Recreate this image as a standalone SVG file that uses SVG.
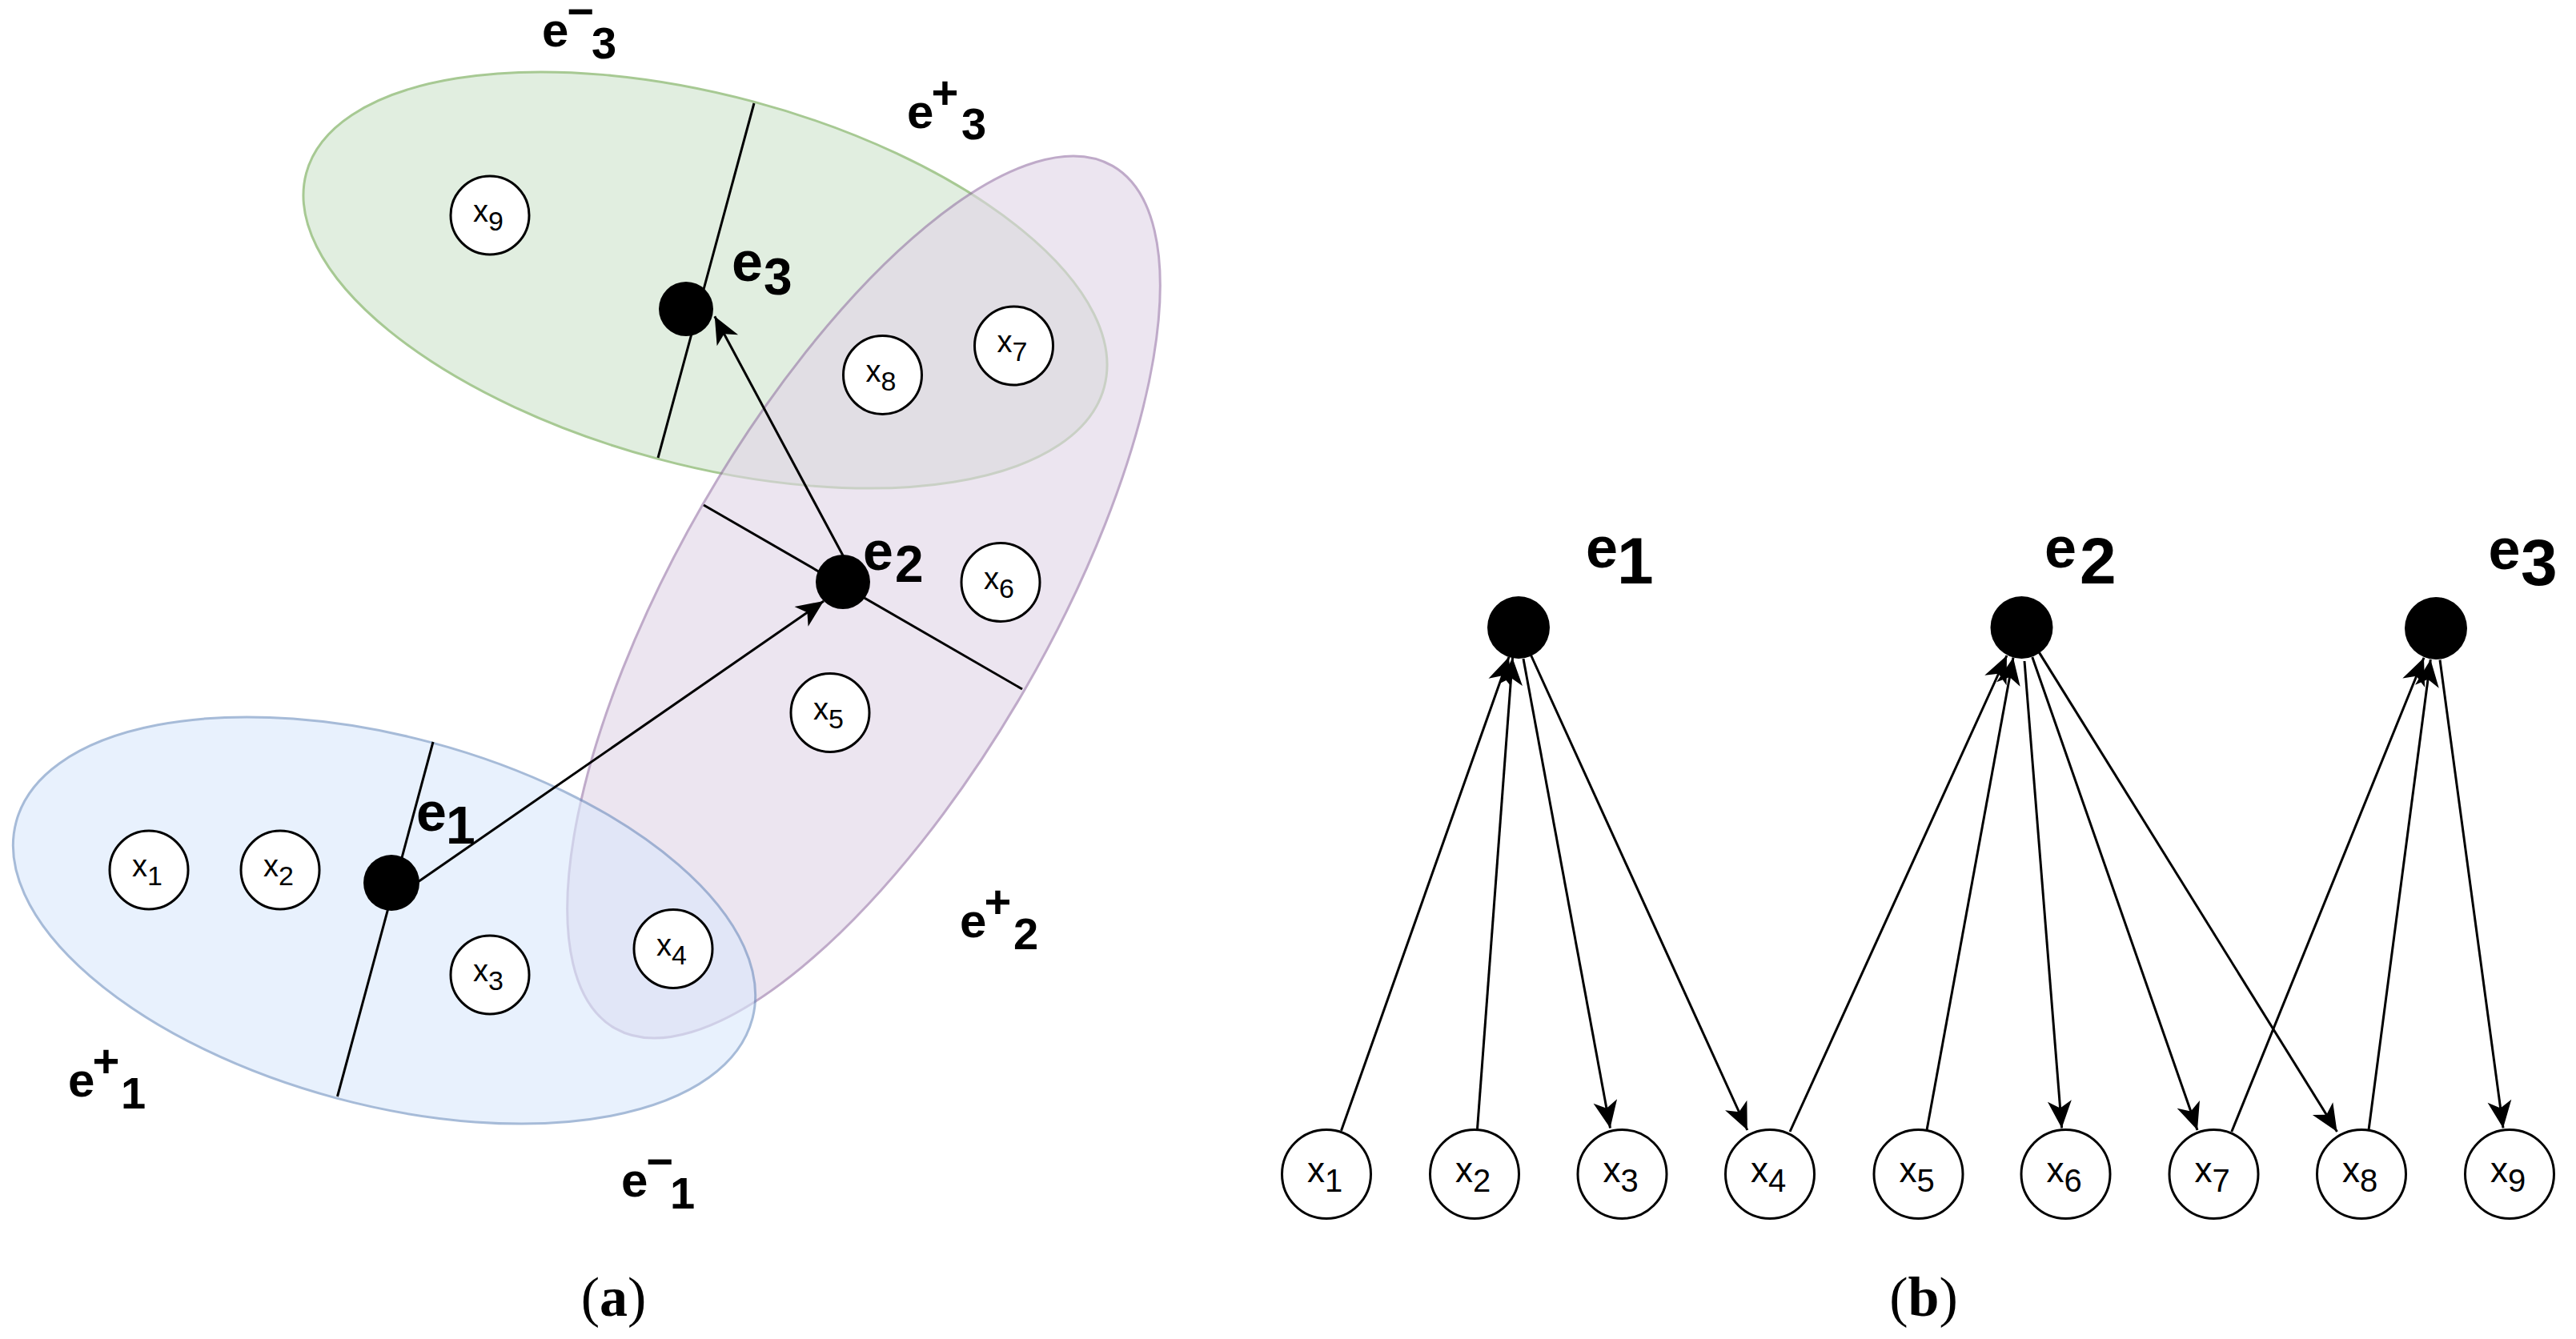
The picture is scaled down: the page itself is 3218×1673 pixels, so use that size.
<svg xmlns="http://www.w3.org/2000/svg" width="3218" height="1673" viewBox="0 0 3218 1673">
<style>
.bg{fill:#ffffff}
.rg{stroke-width:3}
.green{fill:#d5e8d4;stroke:#82b366;opacity:0.7}
.purple{fill:#e1d5e7;stroke:#9673a6;opacity:0.6}
.blue{fill:#dae8fc;stroke:#6c8ebf;opacity:0.6}
.ln{fill:none;stroke:#000;stroke-width:3}
.ar{fill:none;stroke:#000;stroke-width:3;marker-end:url(#arr)}
.xa{fill:#fff;stroke:#000;stroke-width:3}
.dot{fill:#000}
.xt{font-family:"Liberation Sans",Arial,sans-serif;fill:#000;text-anchor:middle}
.el{font-family:"Liberation Sans",Arial,sans-serif;font-weight:bold;fill:#000}
.cap{font-family:"Liberation Serif","Times New Roman",serif;font-size:70px;fill:#000;text-anchor:middle}
</style>
<defs>
<marker id="arr" markerUnits="userSpaceOnUse" viewBox="-36 -17 38 34" refX="0" refY="0" markerWidth="38" markerHeight="34" orient="auto">
<path d="M0,0 L-34,-15 L-25,0 L-34,15 Z" fill="#000"/>
</marker>
</defs>
<rect class="bg" x="0" y="0" width="3218" height="1673"/>

<g id="regions">
<ellipse id="region-e3" class="green rg" cx="881" cy="350" rx="516" ry="231" transform="rotate(15 881 350)"/>
<ellipse id="region-e2" class="purple rg" cx="1079" cy="746" rx="622" ry="232" transform="rotate(-60 1079 746)"/>
<ellipse id="region-e1" class="blue rg" cx="480" cy="1150" rx="476" ry="230" transform="rotate(15 480 1150)"/>
</g>

<g id="partitions">
<line class="ln" x1="942" y1="129" x2="822" y2="572"/>
<line class="ln" x1="879" y1="631" x2="1277" y2="861"/>
<line class="ln" x1="541" y1="927" x2="421.5" y2="1370"/>
</g>

<g id="connectors">
<path class="ar" d="M522,1102 L1029,751"/>
<path class="ar" d="M1053,694 L892.8,395.3"/>
<path class="ar" d="M1675.5,1412.7 L1885,820.7"/>
<path class="ar" d="M1845.5,1410.7 L1889.5,822"/>
<path class="ar" d="M1903,823 L2011.5,1409.4"/>
<path class="ar" d="M1912.7,819 L2182.8,1412"/>
<path class="ar" d="M2236,1414 L2507,819"/>
<path class="ar" d="M2407,1412 L2515,821.5"/>
<path class="ar" d="M2529,826 L2575.6,1409.4"/>
<path class="ar" d="M2538.8,821 L2745,1412"/>
<path class="ar" d="M2547,814.6 L2919.5,1414"/>
<path class="ar" d="M2787.8,1414 L3028,821.7"/>
<path class="ar" d="M2959,1412 L3036.3,824"/>
<path class="ar" d="M3048,824.5 L3127,1409.4"/>
</g>

<g id="a-e1"><circle class="dot" cx="489" cy="1103" r="35"/><text class="el" x="520" y="1038" font-size="68">e<tspan x="557" y="1054" font-size="66">1</tspan></text></g>
<g id="a-e2"><circle class="dot" cx="1053" cy="727" r="34"/><text class="el" x="1078" y="712" font-size="68">e<tspan x="1118" y="727" font-size="64">2</tspan></text></g>
<g id="a-e3"><circle class="dot" cx="857" cy="386" r="34"/><text class="el" x="914" y="351" font-size="70">e<tspan x="954" y="368" font-size="64">3</tspan></text></g>

<g id="a-x1"><circle class="xa" cx="186" cy="1087" r="49"/><text class="xt" x="184" y="1095" font-size="38">x<tspan font-size="34" dy="11">1</tspan></text></g>
<g id="a-x2"><circle class="xa" cx="350" cy="1087" r="49"/><text class="xt" x="348" y="1095" font-size="38">x<tspan font-size="34" dy="11">2</tspan></text></g>
<g id="a-x3"><circle class="xa" cx="612" cy="1218" r="49"/><text class="xt" x="610" y="1226" font-size="38">x<tspan font-size="34" dy="11">3</tspan></text></g>
<g id="a-x4"><circle class="xa" cx="841" cy="1185.5" r="49"/><text class="xt" x="839" y="1193.5" font-size="38">x<tspan font-size="34" dy="11">4</tspan></text></g>
<g id="a-x5"><circle class="xa" cx="1037" cy="890.5" r="49"/><text class="xt" x="1035" y="898.5" font-size="38">x<tspan font-size="34" dy="11">5</tspan></text></g>
<g id="a-x6"><circle class="xa" cx="1250" cy="727.5" r="49"/><text class="xt" x="1248" y="735.5" font-size="38">x<tspan font-size="34" dy="11">6</tspan></text></g>
<g id="a-x7"><circle class="xa" cx="1266.5" cy="432" r="49"/><text class="xt" x="1264.5" y="440" font-size="38">x<tspan font-size="34" dy="11">7</tspan></text></g>
<g id="a-x8"><circle class="xa" cx="1102.5" cy="468.5" r="49"/><text class="xt" x="1100.5" y="476.5" font-size="38">x<tspan font-size="34" dy="11">8</tspan></text></g>
<g id="a-x9"><circle class="xa" cx="612" cy="269" r="49"/><text class="xt" x="610" y="277" font-size="38">x<tspan font-size="34" dy="11">9</tspan></text></g>

<g id="a-labels">
<text class="el" x="677" y="58" font-size="60">e<tspan x="708.5" y="34" font-size="58">−</tspan><tspan x="739" y="73" font-size="56">3</tspan></text>
<text class="el" x="1133" y="160" font-size="60">e<tspan x="1163.5" y="136" font-size="58">+</tspan><tspan x="1201" y="174" font-size="56">3</tspan></text>
<text class="el" x="85" y="1370" font-size="60">e<tspan x="115.5" y="1346" font-size="58">+</tspan><tspan x="151" y="1385" font-size="56">1</tspan></text>
<text class="el" x="1199" y="1171" font-size="60">e<tspan x="1229.5" y="1147" font-size="58">+</tspan><tspan x="1266" y="1186" font-size="56">2</tspan></text>
<text class="el" x="776" y="1495" font-size="60">e<tspan x="807.5" y="1471" font-size="58">−</tspan><tspan x="837" y="1510" font-size="56">1</tspan></text>
<text class="cap" x="766.5" y="1644">(<tspan font-weight="bold">a</tspan>)</text>
</g>

<g id="b-e1"><circle class="dot" cx="1897" cy="784" r="39"/><text class="el" x="1981" y="709" font-size="72">e<tspan x="2020" y="729" font-size="82">1</tspan></text></g>
<g id="b-e2"><circle class="dot" cx="2525.5" cy="784" r="39"/><text class="el" x="2554" y="709" font-size="72">e<tspan x="2598" y="729" font-size="82">2</tspan></text></g>
<g id="b-e3"><circle class="dot" cx="3043" cy="785" r="39"/><text class="el" x="3108.5" y="710.5" font-size="72">e<tspan x="3149" y="731" font-size="82">3</tspan></text></g>

<g id="b-x1"><circle class="xa" cx="1657" cy="1467" r="55.5"/><text class="xt" x="1655" y="1476.5" font-size="44">x<tspan font-size="40" dy="12.5">1</tspan></text></g>
<g id="b-x2"><circle class="xa" cx="1842" cy="1467" r="55.5"/><text class="xt" x="1840" y="1476.5" font-size="44">x<tspan font-size="40" dy="12.5">2</tspan></text></g>
<g id="b-x3"><circle class="xa" cx="2026.5" cy="1467" r="55.5"/><text class="xt" x="2024.5" y="1476.5" font-size="44">x<tspan font-size="40" dy="12.5">3</tspan></text></g>
<g id="b-x4"><circle class="xa" cx="2211" cy="1467" r="55.5"/><text class="xt" x="2209" y="1476.5" font-size="44">x<tspan font-size="40" dy="12.5">4</tspan></text></g>
<g id="b-x5"><circle class="xa" cx="2396.5" cy="1467" r="55.5"/><text class="xt" x="2394.5" y="1476.5" font-size="44">x<tspan font-size="40" dy="12.5">5</tspan></text></g>
<g id="b-x6"><circle class="xa" cx="2580.5" cy="1467" r="55.5"/><text class="xt" x="2578.5" y="1476.5" font-size="44">x<tspan font-size="40" dy="12.5">6</tspan></text></g>
<g id="b-x7"><circle class="xa" cx="2765.5" cy="1467" r="55.5"/><text class="xt" x="2763.5" y="1476.5" font-size="44">x<tspan font-size="40" dy="12.5">7</tspan></text></g>
<g id="b-x8"><circle class="xa" cx="2950" cy="1467" r="55.5"/><text class="xt" x="2948" y="1476.5" font-size="44">x<tspan font-size="40" dy="12.5">8</tspan></text></g>
<g id="b-x9"><circle class="xa" cx="3135" cy="1467" r="55.5"/><text class="xt" x="3133" y="1476.5" font-size="44">x<tspan font-size="40" dy="12.5">9</tspan></text></g>

<g id="b-labels">
<text class="cap" x="2403" y="1644">(<tspan font-weight="bold">b</tspan>)</text>
</g>
</svg>
